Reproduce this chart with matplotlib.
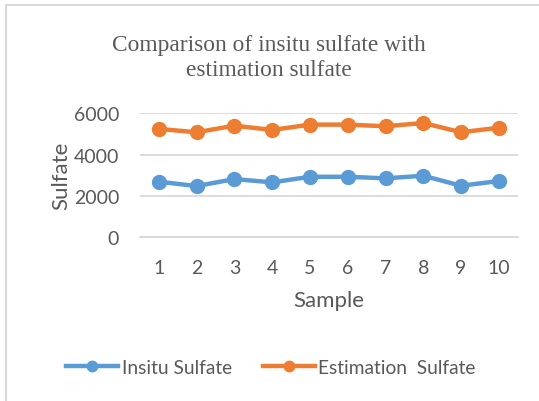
import numpy as np
import matplotlib.pyplot as plt
from matplotlib.patches import Rectangle

samples = [1, 2, 3, 4, 5, 6, 7, 8, 9, 10]
insitu = [2680, 2470, 2810, 2650, 2920, 2920, 2845, 2970, 2485, 2715]
estimation = [5240, 5080, 5400, 5190, 5450, 5450, 5370, 5530, 5080, 5300]

grey = "#595959"
plt.rcParams['font.family'] = ['Lato', 'DejaVu Sans']

fig = plt.figure(figsize=(5.39, 4.02), dpi=100)
ax = fig.add_axes([0.2597, 0.408, 0.7008, 0.3077])

ax.plot(samples, insitu, "-o", color="#5b9bd5", lw=3.2, ms=10, label="Insitu Sulfate")
ax.plot(samples, estimation, "-o", color="#ed7d31", lw=3.2, ms=10, label="Estimation  Sulfate")

ax.set_xlim(0.5, 10.5)
ax.set_ylim(0, 6000)
ax.set_yticks([0, 2000, 4000, 6000])
ax.set_xticks(samples)
ax.grid(axis="y", color="#d9d9d9", lw=1.3)
ax.set_axisbelow(True)
for s in ["top", "right", "left"]:
    ax.spines[s].set_visible(False)
ax.spines["bottom"].set_color("#d9d9d9")
ax.spines["bottom"].set_linewidth(1.3)
ax.tick_params(length=0, labelsize=14, labelcolor=grey)
ax.tick_params(axis="y", pad=15)
ax.tick_params(axis="x", pad=16)
ax.set_ylabel("Sulfate", fontsize=16, color=grey, labelpad=2)
ax.set_xlabel("Sample", fontsize=16, color=grey, labelpad=10)
for ln in ax.lines:
    ln.set_clip_on(False)

fig.text(0.499, 0.855, "Comparison of insitu sulfate with\nestimation sulfate",
         ha="center", va="center", fontsize=16.8, color=grey,
         family="Liberation Serif", linespacing=1.25)

fig.legend(loc="center", bbox_to_anchor=(0.503, 1 - 368.7 / 402), ncol=2,
           frameon=False, fontsize=13.8, labelcolor=grey, handlelength=2.7,
           handletextpad=0.2, columnspacing=1.6, markerscale=0.75)

# chart border (only left and top edges show in the crop)
fig.add_artist(Rectangle((6 / 539, -0.1), 1.2, 1 - 5.5 / 402 + 0.1,
                         transform=fig.transFigure, fill=False,
                         edgecolor="#d9d9d9", lw=1.5))

fig.savefig("out.png", dpi=100)
